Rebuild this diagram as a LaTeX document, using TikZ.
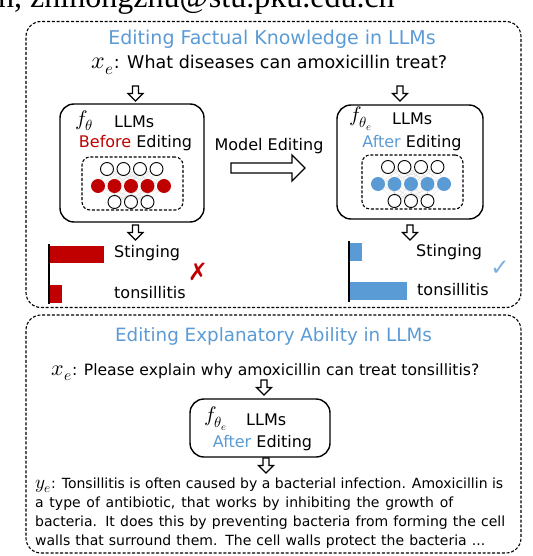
\documentclass[tikz,border=0pt]{standalone}
\usepackage{fontspec}
\usepackage{unicode-math}
\setmainfont{DejaVu Sans}
\setmathfont{Latin Modern Math}
\newfontfamily\hdrfont{Liberation Serif}
\definecolor{myred}{HTML}{C00000}
\definecolor{myblue}{HTML}{5B9BD5}
\newcommand{\fsz}[1]{\fontsize{#1}{#1}\selectfont}
\newcommand{\bigmath}[2]{{\fontsize{#1}{#1}\selectfont$#2$}}
\begin{document}
\begin{tikzpicture}[x=1pt,y=-1pt,
  outerbox/.style={draw, dash pattern=on 3pt off 1.8pt, line width=1.1pt, rounded corners=15pt},
  llmbox/.style={draw, line width=1.4pt, rounded corners=14pt},
  innerbox/.style={draw, dash pattern=on 3pt off 1.8pt, line width=1.1pt, rounded corners=8pt},
  neuron/.style={circle, draw, line width=0.9pt, minimum size=13pt, inner sep=0pt, fill=white},
  conn/.style={gray!35, line width=0.25pt},
  txt/.style={inner sep=0pt, font=\fsz{16}},
  harrow/.pic={\draw[line width=1.1pt, fill=white, line join=miter]
     (-3,0) -- (3,0) -- (3,7.5) -- (7.5,7.5) -- (0,15) -- (-7.5,7.5) -- (-3,7.5) -- cycle;},
  bigarrow/.pic={\draw[line width=1.3pt, fill=white, line join=miter]
     (0,-5) -- (61,-5) -- (61,-13) -- (74,0) -- (61,13) -- (61,5) -- (0,5) -- cycle;}
]
\useasboundingbox (0,0) rectangle (532,556);
% header (cut off)
\begin{scope}
\clip (0,0) rectangle (532,556);
\node[anchor=base west, inner sep=0pt, font=\hdrfont\fsz{32}] (hdr) at (-2,8) {n, zhihongzhu@stu.pku.edu.cn};
\end{scope}

% ===== top panel =====
\node[outerbox, minimum width=495pt, minimum height=286pt] (top) at (273.5,164.5) {};
\node[txt, anchor=base, text=myblue, font=\fsz{19}] (t1) at (272,44.5) {Editing Factual Knowledge in LLMs};
\node[txt, anchor=base, font=\fsz{17.5}] (q1) at (269.5,68.5) {\bigmath{24}{x_e}: What diseases can amoxicillin treat?};

% left LLM box
\node[llmbox, minimum width=144pt, minimum height=118pt] (L1) at (132,163) {};
\node[innerbox, minimum width=101pt, minimum height=53pt] (N1) at (132.5,183.5) {};
\node[inner sep=0pt, font=\fsz{21}] (f1) at (84,121) {$f_\theta$};
\node[txt, anchor=base west] (m1) at (114,127.5) {LLMs};
\node[txt, anchor=base] (b1) at (135.5,148) {\textcolor{myred}{Before} Editing};

% right LLM box
\node[llmbox, minimum width=146pt, minimum height=114pt] (L2) at (410,162) {};
\node[innerbox, minimum width=101pt, minimum height=54pt] (N2) at (412.5,182) {};
\node[inner sep=0pt, font=\fsz{21}] (f2) at (361,119) {$f_{\theta_e}$};
\node[txt, anchor=base west] (m2) at (392,124.5) {LLMs};
\node[txt, anchor=base] (b2) at (412,147.5) {\textcolor{myblue}{After} Editing};

% neurons left
\foreach \i/\x in {1/107,2/123.5,3/140,4/156.5} \coordinate (lt\i) at (\x,169);
\foreach \i/\x in {1/98,2/114.5,3/131,4/147.5,5/164} \coordinate (lm\i) at (\x,186);
\foreach \i/\x in {1/114.5,2/131,3/147.5} \coordinate (lb\i) at (\x,202);
\foreach \a in {1,...,4} \foreach \b in {1,...,5} \draw[conn] (lt\a) -- (lm\b);
\foreach \a in {1,...,5} \foreach \b in {1,...,3} \draw[conn] (lm\a) -- (lb\b);
\foreach \i in {1,...,4} \node[neuron] (nlt\i) at (lt\i) {};
\foreach \i in {1,...,5} \node[neuron, fill=myred, draw=myred] (nlm\i) at (lm\i) {};
\foreach \i in {1,...,3} \node[neuron] (nlb\i) at (lb\i) {};

% neurons right
\foreach \i/\x in {1/388,2/404.5,3/421,4/437.5} \coordinate (rt\i) at (\x,167);
\foreach \i/\x in {1/378,2/394.5,3/411,4/427.5,5/444} \coordinate (rm\i) at (\x,184);
\foreach \i/\x in {1/394.5,2/411,3/427.5} \coordinate (rb\i) at (\x,201);
\foreach \a in {1,...,4} \foreach \b in {1,...,5} \draw[conn] (rt\a) -- (rm\b);
\foreach \a in {1,...,5} \foreach \b in {1,...,3} \draw[conn] (rm\a) -- (rb\b);
\foreach \i in {1,...,4} \node[neuron] (nrt\i) at (rt\i) {};
\foreach \i in {1,...,5} \node[neuron, fill=myblue, draw=myblue] (nrm\i) at (rm\i) {};
\foreach \i in {1,...,3} \node[neuron] (nrb\i) at (rb\i) {};

% arrows into / out of the boxes
\pic at (135.5,86) {harrow};
\pic at (400,86) {harrow};
\pic at (135.5,225) {harrow};
\pic at (410,225) {harrow};

% model editing
\node[txt] (me) at (269,146) {Model Editing};
\pic at (231,168) {bigarrow};

% left bar chart
\fill[myred] (49,246) rectangle (104,263);
\fill[myred] (49,285) rectangle (62,303);
\draw[line width=1.5pt] (49,244) -- (49,304);
\node[txt, anchor=west] (s1) at (114,253) {Stinging};
\node[txt, anchor=west] (o1) at (114,293) {tonsillitis};
\node[inner sep=0pt, text=myred, font=\fsz{24}] (x1) at (198,272) {✗};

% right bar chart
\fill[myblue] (349,243) rectangle (362,261);
\fill[myblue] (349,282) rectangle (407,300);
\draw[line width=1.5pt] (349,241) -- (349,302);
\node[txt, anchor=west] (s2) at (416,252) {Stinging};
\node[txt, anchor=west] (o2) at (417,290) {tonsillitis};
\node[inner sep=0pt, text=myblue!80, font=\fsz{23}] (c2) at (500,268) {✓};

% ===== bottom panel =====
\node[outerbox, minimum width=495pt, minimum height=238pt] (bot) at (273.5,434) {};
\node[txt, anchor=base, text=myblue, font=\fsz{18.3}] (t2) at (273.5,341) {Editing Explanatory Ability in LLMs};
\node[txt, anchor=base, font=\fsz{15.6}] (q2) at (265.5,375.5) {\bigmath{22}{x_e}: Please explain why amoxicillin can treat tonsillitis?};
\pic at (264,380) {harrow};
\node[llmbox, minimum width=140pt, minimum height=58pt] (L3) at (260,428) {};
\node[inner sep=0pt, font=\fsz{21}] (f3) at (216,419) {$f_{\theta_e}$};
\node[txt, anchor=base west] (m3) at (246,425.5) {LLMs};
\node[txt, anchor=base] (b3) at (262.5,447) {\textcolor{myblue}{After} Editing};
\pic at (266,458) {harrow};
\begin{scope}[every node/.style={txt, anchor=base west, font=\fsz{14}}]
\node (p1) at (35,488) {\makebox[468pt][s]{\bigmath{19}{y_e}: Tonsillitis is often caused by a bacterial infection. Amoxicillin is}};
\node (p2) at (35,507) {\makebox[418pt][s]{a type of antibiotic, that works by inhibiting the growth of}};
\node (p3) at (35,526) {\makebox[470pt][s]{bacteria. It does this by preventing bacteria from forming the cell}};
\node (p4) at (35,545) {\makebox[450pt][s]{walls that surround them. The cell walls protect the bacteria ...}};
\end{scope}
\end{tikzpicture}
\end{document}
